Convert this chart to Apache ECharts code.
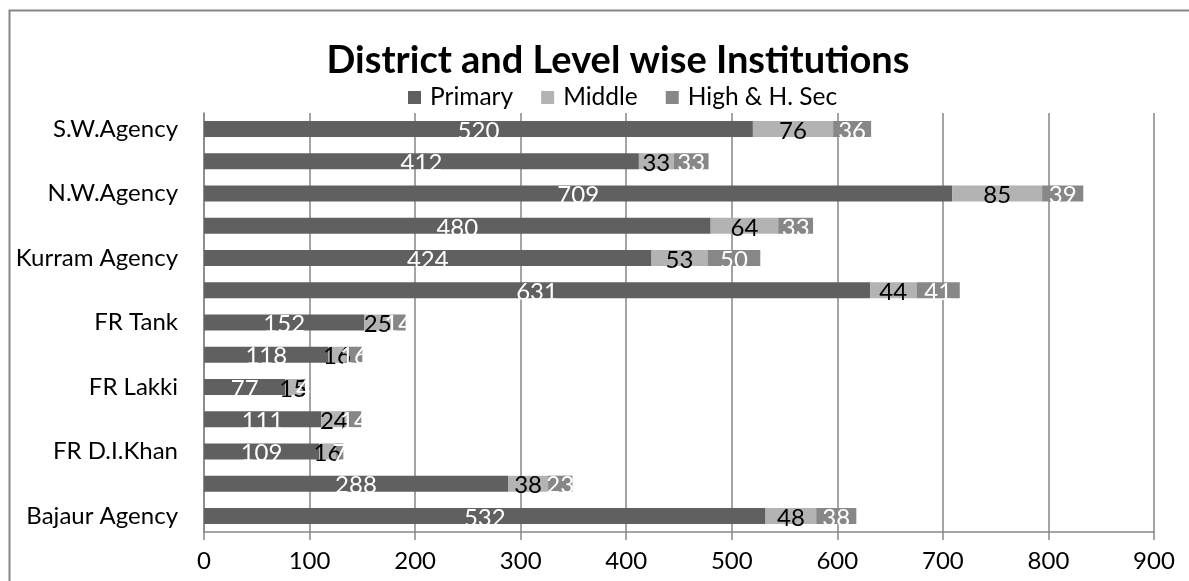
<!DOCTYPE html>
<html>
<head>
<meta charset="utf-8">
<script src="https://cdn.jsdelivr.net/npm/echarts@6/dist/echarts.min.js"></script>
<style>
html,body{margin:0;padding:0;background:#fff;}
#chart{width:1189px;height:581px;}
</style>
</head>
<body>
<div id="chart"></div>
<script>
var categories = ['Bajaur Agency','FR Bannu','FR D.I.Khan','FR Kohat','FR Lakki','FR Peshawar','FR Tank','Khyber Agency','Kurram Agency','Mohmand Agency','N.W.Agency','Orakzai Agency','S.W.Agency'];
var primary = [532, 288, 109, 111, 77, 118, 152, 631, 424, 480, 709, 412, 520];
var middle  = [48, 38, 16, 24, 15, 16, 25, 44, 53, 64, 85, 33, 76];
var high    = [38, 23, 7, 14, 4, 16, 14, 41, 50, 33, 39, 33, 36];
var xTicks = [0, 100, 200, 300, 400, 500, 600, 700, 800, 900];

var FONT = 'Lato';
var chart = echarts.init(document.getElementById('chart'));
function mk(name, data, color, labelColor) {
  return {
    name: name, type: 'bar', stack: 'total', data: data, barWidth: 16,
    itemStyle: {color: color},
    label: {show: true, position: 'inside', color: labelColor, fontFamily: FONT, fontSize: 24, offset: [0, 2]},
    emphasis: {disabled: true}
  };
}
chart.setOption({
  animation: false,
  title: {
    text: 'District and Level wise Institutions',
    left: 613, top: 37, textAlign: 'center',
    textStyle: {fontFamily: FONT, fontWeight: 'bold', fontSize: 38, color: '#000'}
  },
  legend: {
    top: 80, left: 403, itemWidth: 13, itemHeight: 13, itemGap: 28,
    icon: 'rect',
    textStyle: {fontFamily: FONT, fontSize: 24.5, color: '#000', padding: [0,0,0,4]},
    data: ['Primary', 'Middle', 'High & H. Sec']
  },
  grid: {left: 204, right: 35, top: 113, bottom: 49, containLabel: false},
  xAxis: {
    type: 'value', min: 0, max: 900, interval: 100,
    axisLine: {show: true, lineStyle: {color: '#868686', width: 1.5}},
    axisTick: {show: true, length: 8, lineStyle: {color: '#868686', width: 1.5}},
    splitLine: {show: true, lineStyle: {color: '#868686', width: 1.5}},
    axisLabel: {fontFamily: FONT, fontSize: 24, color: '#000', margin: 17,
      formatter: function (v) { return xTicks.indexOf(v) >= 0 ? String(v) : ''; }}
  },
  yAxis: {
    type: 'category', data: categories,
    axisLine: {show: true, lineStyle: {color: '#868686', width: 1.5}},
    axisTick: {show: false},
    axisLabel: {interval: 1, fontFamily: FONT, fontSize: 24, color: '#000', margin: 26}
  },
  graphic: [{
    type: 'rect', left: 7, top: 8, silent: true,
    shape: {width: 1200, height: 600},
    style: {fill: 'none', stroke: '#868686', lineWidth: 2}
  }],
  series: [
    mk('Primary', primary, '#606060', '#fff'),
    mk('Middle', middle, '#b3b3b3', '#000'),
    mk('High & H. Sec', high, '#878787', '#fff')
  ]
});
</script>
</body>
</html>
